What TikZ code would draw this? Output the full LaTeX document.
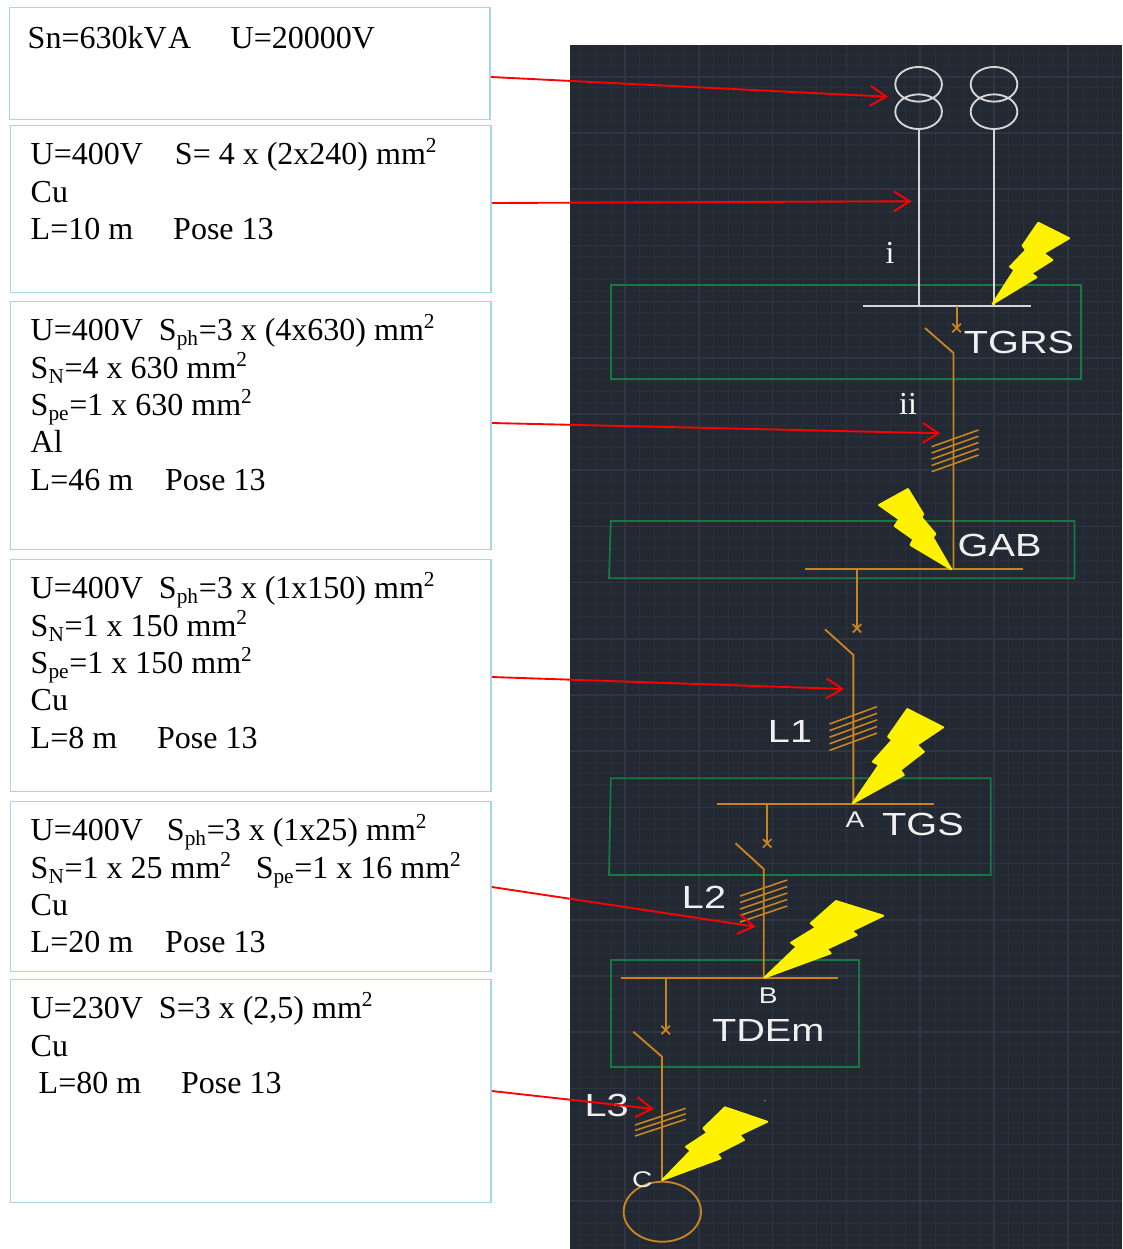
\documentclass[tikz,border=0pt]{standalone}
\usepackage{fontspec}
\setmainfont{Liberation Serif}
\newfontfamily\cadfont[FakeStretch=1.24]{Liberation Sans}
\usetikzlibrary{arrows.meta}
\usetikzlibrary{shapes.geometric}
\usetikzlibrary{shapes.misc}

\definecolor{panelbg}{HTML}{222933}
\definecolor{gridminor}{HTML}{2A303B}
\definecolor{gridmajor}{HTML}{313543}
\definecolor{boxblue}{HTML}{A9D6E5}
\definecolor{wireorange}{HTML}{C8841F}
\definecolor{wirewhite}{HTML}{D6D6D6}
\definecolor{zonegreen}{HTML}{17793F}
\definecolor{cadwhite}{HTML}{F0F0F0}

\newcommand{\boxbody}[2]{\parbox[t][#1][t]{330.3pt}{\fontsize{24}{28}\selectfont\rule{0pt}{23.3pt}#2}}
\newcommand{\squared}{\textsuperscript{\fontsize{16}{16}\selectfont 2}}
\newcommand{\lowidx}[1]{\textsubscript{\fontsize{16}{16}\selectfont #1}}

\begin{document}
\begin{tikzpicture}[x=.75pt,y=-.75pt,>={Straight Barb[length=12pt,width=15pt]},
	info box/.style={draw=boxblue,line width=1.1pt,anchor=north west,inner xsep=15pt,inner ysep=6pt},
	red arrow/.style={->,red,line width=1.4pt},
	wire/.style={wireorange,line width=1.4pt},
	ticks/.style={wireorange,line width=1.2pt},
	white wire/.style={wirewhite,line width=1.4pt},
	zone/.style={draw=zonegreen,line width=1.3pt},
	coil/.style={ellipse,draw=wirewhite,line width=1.4pt,minimum width=35pt,minimum height=26pt,inner sep=0pt},
	breaker/.style={cross out,draw=wireorange,line width=1.3pt,minimum size=5pt,inner sep=0pt},
	cad label/.style={text=cadwhite,font=\cadfont\fontsize{24}{24}\selectfont,inner sep=0pt},
	cad small/.style={text=cadwhite,font=\cadfont\fontsize{17}{17}\selectfont,inner sep=0pt},
	cable label/.style={text=white,font=\fontsize{24}{24}\selectfont,inner sep=0pt},
	bolt/.style={fill=yellow,draw=yellow,line width=1.4pt,line join=round}]
	
	\useasboundingbox (0,0) rectangle (1122,1249);
	
	\fill[panelbg] (570,45) rectangle (1122,1249);
	\begin{scope}
		\clip (570,45) rectangle (1122,1249);
		\foreach \k in {0,...,38}
			\draw[gridminor,line width=.75pt] ({566+14.76*\k},45) -- ({566+14.76*\k},1249);
		\foreach \k in {0,...,107}
			\draw[gridminor,line width=.75pt] (570,{54.2+11.24*\k}) -- (1122,{54.2+11.24*\k});
		\foreach \k in {0,...,7}
			\draw[gridmajor,line width=1.2pt] ({625+73.8*\k},45) -- ({625+73.8*\k},1249);
		\foreach \k in {0,...,21}
			\draw[gridmajor,line width=1.2pt] (570,{76.7+56.2*\k}) -- (1122,{76.7+56.2*\k});
	\end{scope}
	
	\node[info box] (boxa) at (9,7) {\boxbody{72pt}{\hspace*{-1.5pt}\raisebox{-1.5pt}{Sn=630kV\kern1.2pt A\hspace{29.5pt}U=20000V}}};
	\node[info box] (boxb) at (10,125) {\boxbody{113pt}{U=400V\hspace{24pt}S= 4 x (2x240) mm\squared\\
		Cu\\
		L=10 m\hspace{30pt}Pose 13}};
	\node[info box] (boxc) at (10,301) {\boxbody{174pt}{U=400V\hspace{12pt}S\lowidx{ph}=3 x (4x630) mm\squared\\
		S\lowidx{N}=4 x 630 mm\squared\\
		S\lowidx{pe}=1 x 630 mm\squared\\
		Al\\
		L=46 m\hspace{24pt}Pose 13}};
	\node[info box] (boxd) at (10,559) {\boxbody{162pt}{U=400V\hspace{12pt}S\lowidx{ph}=3 x (1x150) mm\squared\\
		S\lowidx{N}=1 x 150 mm\squared\\
		S\lowidx{pe}=1 x 150 mm\squared\\
		Cu\\
		L=8 m\hspace{30pt}Pose 13}};
	\node[info box] (boxe) at (10,801) {\boxbody{115.5pt}{U=400V\hspace{18pt}S\lowidx{ph}=3 x (1x25) mm\squared\\
		S\lowidx{N}=1 x 25 mm\squared\hspace{18pt}S\lowidx{pe}=1 x 16 mm\squared\\
		Cu\\
		L=20 m\hspace{24pt}Pose 13}};
	\node[info box] (boxf) at (10,979) {\boxbody{155pt}{U=230V\hspace{12pt}S=3 x (2,5) mm\squared\\
		Cu\\
		\hspace*{6pt}L=80 m\hspace{30pt}Pose 13}};
	
	\draw[zone] (611,285.3) rectangle (1081,379.3);
	\draw[zone] (610.8,521) -- (1074.6,521) -- (1074.6,578.3) -- (609,578.3) -- cycle;
	\draw[zone] (610.8,778.3) -- (990.8,778.3) -- (990.8,875) -- (609,875) -- cycle;
	\draw[zone] (610.7,960.3) rectangle (859,1066.7);
	
	\node[coil] (upa) at (918.6,84.3) {};
	\node[coil] (lowa) at (918.6,111.7) {};
	\node[coil] (upb) at (994,84.3) {};
	\node[coil] (lowb) at (994,111.7) {};
	
	\coordinate (busal) at (863,305.7);
	\coordinate (busar) at (1031,305.7);
	\coordinate (busbl) at (805,569.3);
	\coordinate (busbr) at (1022.5,569.3);
	\coordinate (buscl) at (717,804);
	\coordinate (buscr) at (934.4,804);
	\coordinate (busdl) at (620.7,977.7);
	\coordinate (busdr) at (838.3,977.7);
	
	\node[breaker] (cba) at (956.6,328) {};
	\node[breaker] (cbb) at (857,628.3) {};
	\node[breaker] (cbc) at (767.2,843.3) {};
	\node[breaker] (cbd) at (665.7,1030) {};
	
	\coordinate (swa) at (925,328);
	\coordinate (kna) at (953.5,353);
	\coordinate (swb) at (825,629.3);
	\coordinate (knb) at (853.4,655);
	\coordinate (swc) at (735.5,843.3);
	\coordinate (knc) at (763.7,869);
	\coordinate (swd) at (633.3,1031.7);
	\coordinate (knd) at (662,1056.7);
	
	\node[ellipse,draw=wireorange,line width=1.4pt,minimum width=58pt,minimum height=45pt,inner sep=0pt] (motor) at (662.3,1211.7) {};
	
	\draw[white wire] (busal) -- (busar);
	\draw[white wire] (lowa.south) -- (lowa.south |- busal);
	\draw[white wire] (lowb.south) -- (lowb.south |- busal);
	
	\draw[wire] (cba.center |- busal) -- (cba.center);
	\draw[wire] (swa) -- (kna) -- (kna |- busbl);
	\draw[wire] (busbl) -- (busbr);
	\draw[wire] (cbb.center |- busbl) -- (cbb.center);
	\draw[wire] (swb) -- (knb) -- (knb |- buscl);
	\draw[wire] (buscl) -- (buscr);
	\draw[wire] (cbc.center |- buscl) -- (cbc.center);
	\draw[wire] (swc) -- (knc) -- (knc |- busdl);
	\draw[wire] (busdl) -- (busdr);
	\draw[wire] (cbd.center |- busdl) -- (cbd.center);
	\draw[wire] (swd) -- (knd) -- (motor.north -| knd);
	
	\foreach \d in {0,6.25,12.5,18.75,25}
		\draw[ticks] (931.6,446.7+\d) -- (978.5,430+\d);
	\foreach \d in {0,6.6,13.2,19.8,26.4}
		\draw[ticks] (829.5,724+\d) -- (877,706.7+\d);
	\foreach \d in {0,6.5,13,19.5,26}
		\draw[ticks] (740,896+\d) -- (787.3,880+\d);
	\foreach \d in {0,5.5,11}
		\draw[ticks] (635,1125+\d) -- (685.7,1108.3+\d);
	
	\fill[wireorange] (765,1100.7) circle (.6pt);
	
	\path[bolt] (992.5,304) -- (1014.4,270) -- (1010,266.7) -- (1026,250) -- (1022.5,245.7) -- (1038.3,222.7) -- (1069.3,238.3) -- (1043.6,253.3) -- (1052.4,260) -- (1031.3,273.3) -- (1036.5,277.3) -- cycle;
	\path[bolt] (951.3,569.3) -- (932.7,537.3) -- (935.5,534) -- (921.4,517.3) -- (923.2,514) -- (908,489) -- (879,505) -- (899.2,519.3) -- (894.6,526) -- (913.3,539.3) -- (910.5,545) -- cycle;
	\path[bolt] (852.7,803.3) -- (879,765) -- (872.8,761.7) -- (892.2,740) -- (888,736.7) -- (907.3,709) -- (943.2,727.3) -- (916.8,745) -- (923.9,751.7) -- (900.3,770) -- (903.8,775) -- cycle;
	\path[bolt] (764.3,977.7) -- (796.7,946.7) -- (791,942.7) -- (816,927.3) -- (810.7,923.3) -- (836,901) -- (883.3,915.7) -- (851.7,931) -- (856.7,935) -- (826.7,949) -- (830.7,953.3) -- cycle;
	\path[bolt] (662.3,1180) -- (690.7,1150.7) -- (686,1146.7) -- (707.3,1132.7) -- (703.3,1128.3) -- (725,1107.3) -- (767.3,1121.7) -- (739.3,1135) -- (744,1140) -- (716.7,1154) -- (720.7,1158.3) -- cycle;
	
	\node[cad label] (tgrs) at (1019,342) {TGRS};
	\node[cad label] (gab) at (999.6,545) {GAB};
	\node[cad label] (tgs) at (923,824.3) {TGS};
	\node[cad label] (tdem) at (768.3,1030) {TDEm};
	\node[cad label] (lone) at (790,731) {L1};
	\node[cad label] (ltwo) at (704,897.7) {L2};
	\node[cad label] (lthree) at (606.7,1105) {L3};
	\node[cad small] (pta) at (855,820) {A};
	\node[cad small] (ptb) at (768.3,996) {B};
	\node[cad small] (ptc) at (642.3,1180) {C};
	\node[cable label] (cablei) at (890,253) {i};
	\node[cable label] (cableii) at (908,404) {ii};
	
	\coordinate (tipa) at (888,96.7);
	\coordinate (tipb) at (911.5,201.3);
	\coordinate (tipc) at (940.4,433.3);
	\coordinate (tipd) at (844,689);
	\coordinate (tipe) at (755.7,926.7);
	\coordinate (tipf) at (654,1109);
	
	\draw[red arrow] (boxa.east |- 0,77) -- (tipa);
	\draw[red arrow] (boxb.east |- 0,203) -- (tipb);
	\draw[red arrow] (boxc.east |- 0,423) -- (tipc);
	\draw[red arrow] (boxd.east |- 0,677) -- (tipd);
	\draw[red arrow] (boxe.east |- 0,887) -- (tipe);
	\draw[red arrow] (boxf.east |- 0,1091) -- (tipf);
\end{tikzpicture}
\end{document}
